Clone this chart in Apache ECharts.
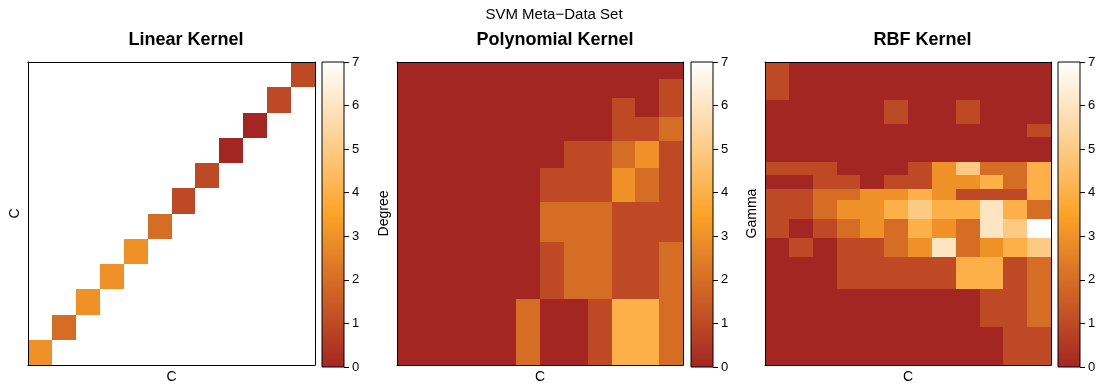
<!DOCTYPE html>
<html>
<head>
<meta charset="utf-8">
<script src="https://cdn.jsdelivr.net/npm/echarts@6/dist/echarts.min.js"></script>
<style>
html,body{margin:0;padding:0;background:#fff;}
#chart{width:1102px;height:389px;}
</style>
</head>
<body>
<div id="chart"></div>
<script>
// ---------------- data ----------------
const mainTitle = 'SVM Meta\u2212Data Set';
const panelTitles = ['Linear Kernel', 'Polynomial Kernel', 'RBF Kernel'];
const xLabels = ['C', 'C', 'C'];
const yLabels = ['C', 'Degree', 'Gamma'];

// colour scale (value 0 .. 7)
const scaleMin = 0;
const scaleMax = 7;
const scaleTicks = [0, 1, 2, 3, 4, 5, 6, 7];
const palette = ['#A42622', '#FCA328', '#FFFFFF'];

// number of C values (columns)
const nC = 12;

// Linear kernel: only the diagonal (C vs C), from lowest C upward
const linearDiag = [3, 2, 3, 3, 3, 2, 1, 1, 0, 0, 1, 1];

// Polynomial kernel: rows listed top (high degree) to bottom
const polyEdges = [24, 22.65, 21.18, 19.61, 17.72, 15.58, 12.93, 9.71, 5.21, 0];
const polyGrid = [
  [0,0,0,0,0,0,0,0,0,0,0,0],
  [0,0,0,0,0,0,0,0,0,0,0,1],
  [0,0,0,0,0,0,0,0,0,1,0,1],
  [0,0,0,0,0,0,0,0,0,1,1,2],
  [0,0,0,0,0,0,0,1,1,2,3,1],
  [0,0,0,0,0,0,1,1,1,3,2,1],
  [0,0,0,0,0,0,2,2,2,1,1,1],
  [0,0,0,0,0,0,1,2,2,1,1,2],
  [0,0,0,0,0,2,0,0,1,4,4,2]
];

// RBF kernel: rows listed top to bottom
const rbfEdges = [24, 21, 19.07, 18.03, 16.07, 15.02, 13.93, 13.06, 11.53, 10.04, 8.58, 5.99, 2.98, 0];
const rbfGrid = [
  [1,0,0,0,0,0,0,0,0,0,0,0],
  [0,0,0,0,0,1,0,0,1,0,0,0],
  [0,0,0,0,0,0,0,0,0,0,0,1],
  [0,0,0,0,0,0,0,0,0,0,0,0],
  [1,1,1,0,0,0,1,3,5,2,2,4],
  [0,0,1,1,0,1,1,3,3,4,2,4],
  [1,1,2,2,3,3,4,3,1,1,1,4],
  [1,1,2,3,3,4,5,4,4,6,4,2],
  [1,0,1,2,3,2,4,3,2,6,5,7],
  [0,1,0,1,1,2,3,6,2,3,4,5],
  [0,0,0,1,1,1,1,1,4,4,1,2],
  [0,0,0,0,0,0,0,0,0,1,1,2],
  [0,0,0,0,0,0,0,0,0,0,1,1]
];

// ---------------- build ----------------
function gridToCells(grid, edges) {
  const out = [];
  grid.forEach((row, r) => {
    row.forEach((v, c) => {
      if (v === null || v === undefined) return;
      out.push([c, c + 1, edges[r + 1], edges[r], v]);
    });
  });
  return out;
}
const linearCells = linearDiag.map((v, i) => [i, i + 1, i, i + 1, v]);
const polyCells = gridToCells(polyGrid, polyEdges);
const rbfCells = gridToCells(rbfGrid, rbfEdges);

const FONT = 'Liberation Sans, Arial, Helvetica, sans-serif';

const panels = [
  {left: 28, width: 287, cbLeft: 322, yMax: 12, cells: linearCells},
  {left: 397, width: 286, cbLeft: 691, yMax: 24, cells: polyCells},
  {left: 765, width: 286, cbLeft: 1058, yMax: 24, cells: rbfCells}
];
const TOP = 62, HEIGHT = 305, CBW = 22;

const grids = [], xAxes = [], yAxes = [], series = [], visualMaps = [], graphics = [];

function cellRender(params, api) {
  const p0 = api.coord([api.value(0), api.value(2)]);
  const p1 = api.coord([api.value(1), api.value(3)]);
  const x0 = Math.round(p0[0]), x1 = Math.round(p1[0]);
  const yb = Math.round(p0[1]), yt = Math.round(p1[1]);
  const col = api.visual('color');
  return {
    type: 'rect',
    shape: {x: x0, y: yt, width: x1 - x0, height: yb - yt},
    style: {fill: col}
  };
}
function cbRender(params, api) {
  const p0 = api.coord([0, api.value(0)]);
  const p1 = api.coord([1, api.value(1)]);
  const stops = palette.map((c, i) => ({offset: i / (palette.length - 1), color: c}));
  return {
    type: 'rect',
    shape: {x: p0[0], y: p1[1], width: p1[0] - p0[0], height: p0[1] - p1[1]},
    style: {
      fill: new echarts.graphic.LinearGradient(0, 1, 0, 0, stops),
      stroke: '#000', lineWidth: 1
    }
  };
}

panels.forEach((p, i) => {
  const gMain = grids.length;
  grids.push({left: p.left, top: TOP, width: p.width, height: HEIGHT, containLabel: false});
  const gCb = grids.length;
  grids.push({left: p.cbLeft, top: TOP, width: CBW, height: HEIGHT, containLabel: false});

  const line = {show: true, onZero: false, lineStyle: {color: '#000', width: 1}};
  const noStuff = {axisTick: {show: false}, axisLabel: {show: false}, splitLine: {show: false}};

  // main plot axes (bottom/left used by series; top/right only for the frame)
  const xMain = xAxes.length;
  xAxes.push(Object.assign({type: 'value', gridIndex: gMain, min: 0, max: nC, position: 'bottom', z: 10,
    axisLine: line, name: xLabels[i], nameLocation: 'middle', nameGap: 5,
    nameTextStyle: {fontFamily: FONT, fontSize: 14, color: '#000'}}, noStuff));
  xAxes.push(Object.assign({type: 'value', gridIndex: gMain, min: 0, max: nC, position: 'top', z: 10,
    axisLine: line}, noStuff));
  const yMain = yAxes.length;
  yAxes.push(Object.assign({type: 'value', gridIndex: gMain, min: 0, max: p.yMax, position: 'left', z: 10,
    axisLine: line, name: yLabels[i], nameLocation: 'middle', nameGap: 6, nameRotate: 90,
    nameTextStyle: {fontFamily: FONT, fontSize: 14, color: '#000'}}, noStuff));
  yAxes.push(Object.assign({type: 'value', gridIndex: gMain, min: 0, max: p.yMax, position: 'right', z: 10,
    axisLine: line}, noStuff));

  // colour bar axes
  const xCb = xAxes.length;
  xAxes.push({type: 'value', gridIndex: gCb, min: 0, max: 1, show: false});
  const yCb = yAxes.length;
  yAxes.push({type: 'value', gridIndex: gCb, min: scaleMin, max: scaleMax, interval: 1, position: 'right', z: 10,
    axisLine: {show: false, onZero: false},
    axisTick: {show: true, length: 5, inside: false, lineStyle: {color: '#000', width: 1}},
    axisLabel: {show: true, margin: 8, fontFamily: FONT, fontSize: 13, color: '#000',
      formatter: v => scaleTicks.includes(v) ? String(v) : ''},
    splitLine: {show: false}});

  const sMain = series.length;
  series.push({type: 'custom', xAxisIndex: xMain, yAxisIndex: yMain, renderItem: cellRender,
    data: p.cells, silent: true, clip: false});
  series.push({type: 'custom', xAxisIndex: xCb, yAxisIndex: yCb, renderItem: cbRender,
    data: [[scaleMin, scaleMax]], silent: true});

  visualMaps.push({type: 'continuous', show: false, seriesIndex: sMain, dimension: 4,
    min: scaleMin, max: scaleMax, inRange: {color: palette}});

  graphics.push({type: 'text', x: p.left + (p.cbLeft + CBW - p.left) / 2, y: 40,
    style: {text: panelTitles[i], font: 'bold 18px ' + FONT, fill: '#000', align: 'center', verticalAlign: 'middle'}});
});

graphics.push({type: 'text', x: 554, y: 15,
  style: {text: mainTitle, font: '15px ' + FONT, fill: '#000', align: 'center', verticalAlign: 'middle'}});

const chart = echarts.init(document.getElementById('chart'), null, {renderer: 'canvas'});
chart.setOption({
  animation: false,
  backgroundColor: '#fff',
  grid: grids,
  xAxis: xAxes,
  yAxis: yAxes,
  visualMap: visualMaps,
  series: series,
  graphic: graphics
});
</script>
</body>
</html>
